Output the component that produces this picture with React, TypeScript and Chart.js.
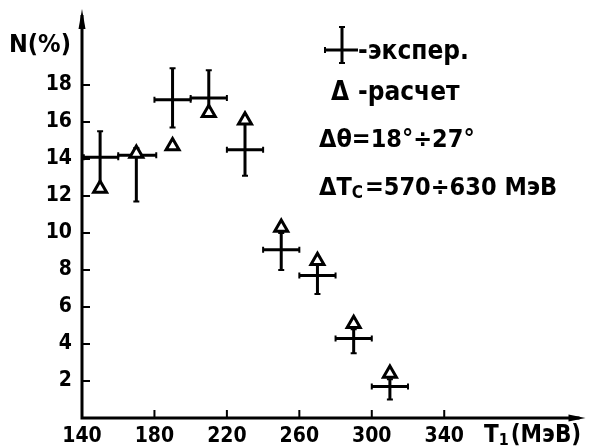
import React, { useEffect, useRef } from "react";
import { Chart, registerables } from "chart.js";
Chart.register(...registerables);

// Experimental points: T1 (MeV) and N (%), with error ranges
const expT = [150, 170, 190, 210, 230, 250, 270, 290, 310];
const expN = [14.1, 14.2, 17.2, 17.3, 14.5, 9.1, 7.7, 4.3, 1.7];
const expNLow = [12.6, 11.7, 15.7, 16.3, 13.1, 8.0, 6.7, 3.5, 1.0];
const expNHigh = [15.5, 14.6, 18.9, 18.8, 15.9, 10.0, 8.3, 4.8, 2.1];
const expTLow = [141, 160, 180, 200, 220, 240, 260, 280, 300];
const expTHigh = [160, 181, 200, 220, 240, 260, 280, 300, 320];

// Calculated points
const calcT = [150, 170, 190, 210, 230, 250, 270, 290, 310];
const calcN = [12.4, 14.3, 14.7, 16.5, 16.1, 10.3, 8.5, 5.1, 2.4];

const xTicks = [140, 180, 220, 260, 300, 340];
const yTicks = [2, 4, 6, 8, 10, 12, 14, 16, 18];

const FAM = "'DejaVu Sans Condensed', 'DejaVu Sans', sans-serif";

const decor = {
  id: "decor",
  beforeDatasetsDraw(chart: any) {
    const { ctx, chartArea, scales } = chart;
    const x = scales.x;
    const y = scales.y;
    ctx.save();
    ctx.strokeStyle = "#000";
    ctx.fillStyle = "#000";
    ctx.lineCap = "butt";
    // axes
    ctx.lineWidth = 3;
    ctx.beginPath();
    ctx.moveTo(chartArea.left, chartArea.bottom);
    ctx.lineTo(chartArea.left, chartArea.top + 4);
    ctx.moveTo(chartArea.left - 1.5, chartArea.bottom);
    ctx.lineTo(chartArea.right - 6, chartArea.bottom);
    ctx.stroke();
    // arrows
    ctx.beginPath();
    ctx.moveTo(chartArea.left, chartArea.top - 2);
    ctx.lineTo(chartArea.left - 3.5, chartArea.top + 18);
    ctx.lineTo(chartArea.left + 3.5, chartArea.top + 18);
    ctx.closePath();
    ctx.fill();
    ctx.beginPath();
    ctx.moveTo(chartArea.right, chartArea.bottom);
    ctx.lineTo(chartArea.right - 17, chartArea.bottom - 3.5);
    ctx.lineTo(chartArea.right - 17, chartArea.bottom + 3.5);
    ctx.closePath();
    ctx.fill();
    // tick marks
    ctx.lineWidth = 2;
    ctx.beginPath();
    xTicks.forEach((v) => {
      if (v === 140) return;
      const px = x.getPixelForValue(v);
      ctx.moveTo(px, chartArea.bottom);
      ctx.lineTo(px, chartArea.bottom - 8);
    });
    yTicks.forEach((v) => {
      const py = y.getPixelForValue(v);
      ctx.moveTo(chartArea.left, py);
      ctx.lineTo(chartArea.left + 8, py);
    });
    ctx.stroke();
    // error bars
    expT.forEach((t, i) => {
      const cx = x.getPixelForValue(t);
      const cy = y.getPixelForValue(expN[i]);
      const x0 = x.getPixelForValue(expTLow[i]);
      const x1 = x.getPixelForValue(expTHigh[i]);
      const y0 = y.getPixelForValue(expNLow[i]);
      const y1 = y.getPixelForValue(expNHigh[i]);
      ctx.lineWidth = 3;
      ctx.beginPath();
      ctx.moveTo(x0, cy);
      ctx.lineTo(x1, cy);
      ctx.moveTo(cx, y0);
      ctx.lineTo(cx, y1);
      ctx.stroke();
      ctx.lineWidth = 2;
      ctx.beginPath();
      ctx.moveTo(x0, cy - 3);
      ctx.lineTo(x0, cy + 3);
      ctx.moveTo(x1, cy - 3);
      ctx.lineTo(x1, cy + 3);
      ctx.moveTo(cx - 3, y0);
      ctx.lineTo(cx + 3, y0);
      ctx.moveTo(cx - 3, y1);
      ctx.lineTo(cx + 3, y1);
      ctx.stroke();
    });
    ctx.restore();
  },
  afterDraw(chart: any) {
    const { ctx } = chart;
    ctx.save();
    ctx.fillStyle = "#000";
    ctx.strokeStyle = "#000";
    ctx.textBaseline = "alphabetic";
    ctx.textAlign = "left";
    const f = (s: number) => `bold ${s}px ${FAM}`;
    // y axis label
    ctx.font = f(25);
    ctx.fillText("N(%)", 9, 52);
    // x axis label with subscript
    let px = 484;
    ctx.font = f(24);
    ctx.fillText("T", px, 442);
    px += ctx.measureText("T").width;
    ctx.font = f(16);
    ctx.fillText("1", px, 445);
    px += ctx.measureText("1").width + 2;
    ctx.font = f(24);
    ctx.fillText("(МэВ)", px, 442);

    // legend cross
    ctx.lineWidth = 3;
    ctx.beginPath();
    ctx.moveTo(325, 50);
    ctx.lineTo(358, 50);
    ctx.moveTo(342, 27);
    ctx.lineTo(342, 63);
    ctx.stroke();
    ctx.lineWidth = 2;
    ctx.beginPath();
    ctx.moveTo(325, 47);
    ctx.lineTo(325, 53);
    ctx.moveTo(339, 27);
    ctx.lineTo(345, 27);
    ctx.moveTo(339, 63);
    ctx.lineTo(345, 63);
    ctx.stroke();
    ctx.font = f(26);
    ctx.fillText("-экспер.", 358, 59);
    ctx.fillText("Δ", 331, 100);
    ctx.fillText("-расчет", 358, 100);
    ctx.font = f(25);
    ctx.fillText("Δθ=18°÷27°", 319, 147);
    // ΔTc line
    px = 319;
    ctx.fillText("ΔT", px, 195);
    px += ctx.measureText("ΔT").width;
    ctx.font = f(17);
    ctx.fillText("C", px, 198);
    px += ctx.measureText("C").width + 2;
    ctx.font = f(25);
    ctx.fillText("=570÷630 МэВ", px, 195);
    ctx.restore();
  },
};

export default function App() {
  const ref = useRef<HTMLCanvasElement | null>(null);
  useEffect(() => {
    document.body.style.margin = "0";
    const canvas = ref.current;
    if (!canvas) return;
    const tickFont = { family: FAM, size: 21, weight: "bold" as const };
    const chart = new Chart(canvas, {
      type: "scatter",
      data: {
        datasets: [
          {
            label: "экспер.",
            data: expT.map((t, i) => ({ x: t, y: expN[i] })),
            pointRadius: 0,
            showLine: false,
          },
          {
            label: "расчет",
            data: calcT.map((t, i) => ({ x: t, y: calcN[i] })),
            pointStyle: "triangle",
            pointRadius: 7.5,
            borderWidth: 3,
            borderColor: "#000",
            backgroundColor: "#fff",
            showLine: false,
          },
        ],
      },
      options: {
        responsive: false,
        animation: false,
        devicePixelRatio: 1,
        layout: { padding: { top: 11, right: 0, left: 0, bottom: 0 } },
        plugins: { legend: { display: false }, tooltip: { enabled: false } },
        scales: {
          x: {
            type: "linear",
            min: 140,
            max: 418,
            border: { display: false },
            grid: { display: false, drawTicks: false },
            afterBuildTicks: (s: any) => {
              s.ticks = xTicks.map((v) => ({ value: v }));
            },
            afterFit: (s: any) => {
              s.height = 29;
              s.paddingLeft = 0;
              s.paddingRight = 0;
            },
            ticks: { padding: 6, font: tickFont, color: "#000", maxRotation: 0, autoSkip: false },
          },
          y: {
            type: "linear",
            min: 0,
            max: 22,
            border: { display: false },
            grid: { display: false, drawTicks: false },
            afterBuildTicks: (s: any) => {
              s.ticks = yTicks.map((v) => ({ value: v }));
            },
            afterFit: (s: any) => {
              s.width = 82;
              s.paddingTop = 0;
              s.paddingBottom = 0;
            },
            ticks: { padding: 10, font: tickFont, color: "#000", autoSkip: false },
          },
        },
      },
      plugins: [decor],
    });
    return () => chart.destroy();
  }, []);
  return (
    <div style={{ width: 596, height: 447, background: "#fff" }}>
      <canvas ref={ref} width={596} height={447} style={{ display: "block" }} />
    </div>
  );
}
